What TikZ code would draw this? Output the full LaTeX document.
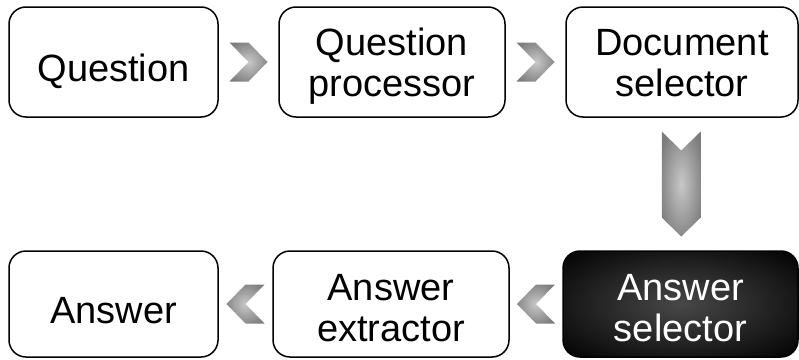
\documentclass[tikz,border=0pt]{standalone}
\usepackage{fontspec}
\setmainfont{Liberation Sans}
\usetikzlibrary{calc}
\definecolor{chin}{HTML}{C8C8C8}
\definecolor{chout}{HTML}{7C7C7C}
\definecolor{selin}{HTML}{484848}
\pgfdeclareradialshading{selshade}{\pgfpoint{0bp}{0bp}}{color(0bp)=(selin); color(36bp)=(black); color(50bp)=(black)}
\pgfdeclareradialshading{chevshade}{\pgfpoint{0bp}{0bp}}{color(0bp)=(chin); color(30bp)=(chout); color(50bp)=(chout)}
\newcommand{\twoline}[2]{\begin{tabular}[t]{@{}c@{}}#1\\#2\end{tabular}}
\begin{document}
\begin{tikzpicture}[x=1pt,y=-1pt,
  box/.style={draw=black, line width=1.5pt, rounded corners=17pt, inner sep=0pt,
    font=\fontsize{38}{41}\selectfont},
  toprow/.style={minimum height=110pt},
  botrow/.style={minimum height=106pt},
  oneline/.style={text height=38pt, text depth=0pt},
  twotop/.style={text height=30pt, text depth=44pt},
  twobot/.style={text height=30pt, text depth=38pt},
  chev/.style={shade, shading=chevshade},
  selbox/.style={shade, shading=selshade, text=white},
]
\useasboundingbox (0,0) rectangle (799,359);
% top row
\node[box, toprow, oneline, minimum width=209pt] (q) at (113.5,62) {Question};
\node[box, toprow, twotop, minimum width=226pt] (qp) at (392,62) {\twoline{Question}{processor}};
\node[box, toprow, twotop, minimum width=232pt] (ds) at (682,62) {\twoline{Document}{selector}};
% bottom row
\node[box, botrow, oneline, minimum width=209pt] (a) at (113.5,304) {Answer};
\node[box, botrow, twobot, minimum width=236pt] (ae) at (391,304) {\twoline{Answer}{extractor}};
\node[box, botrow, twobot, selbox, minimum width=235pt] (as) at (680.5,304) {\twoline{Answer}{selector}};
% connector positions
\coordinate (c1) at ($(q.east)!0.5!(qp.west)$);
\coordinate (c2) at ($(qp.east)!0.5!(ds.west)$);
\coordinate (c3) at ($(ds.south)!0.5!(as.north)$);
\coordinate (c4) at ($(as.west)!0.5!(ae.east)$);
\coordinate (c5) at ($(ae.west)!0.5!(a.east)$);
% right chevrons
\path[chev] ([shift={(-19,-19.5)}]c1) -- ++(19,0) -- ++(19,19.5) -- ++(-19,19.5) -- ++(-19,0) -- ++(19,-19.5) -- cycle;
\path[chev] ([shift={(-19,-19.5)}]c2) -- ++(19,0) -- ++(19,19.5) -- ++(-19,19.5) -- ++(-19,0) -- ++(19,-19.5) -- cycle;
% down arrow
\path[chev] ([shift={(-19.5,-52.5)}]c3) -- ++(19.5,19) -- ++(19.5,-19) -- ++(0,86) -- ++(-19.5,19) -- ++(-19.5,-19) -- cycle;
% left chevrons
\path[chev] ([shift={(19,-19.5)}]c4) -- ++(-19,0) -- ++(-19,19.5) -- ++(19,19.5) -- ++(19,0) -- ++(-19,-19.5) -- cycle;
\path[chev] ([shift={(19,-19.5)}]c5) -- ++(-19,0) -- ++(-19,19.5) -- ++(19,19.5) -- ++(19,0) -- ++(-19,-19.5) -- cycle;
\end{tikzpicture}
\end{document}
